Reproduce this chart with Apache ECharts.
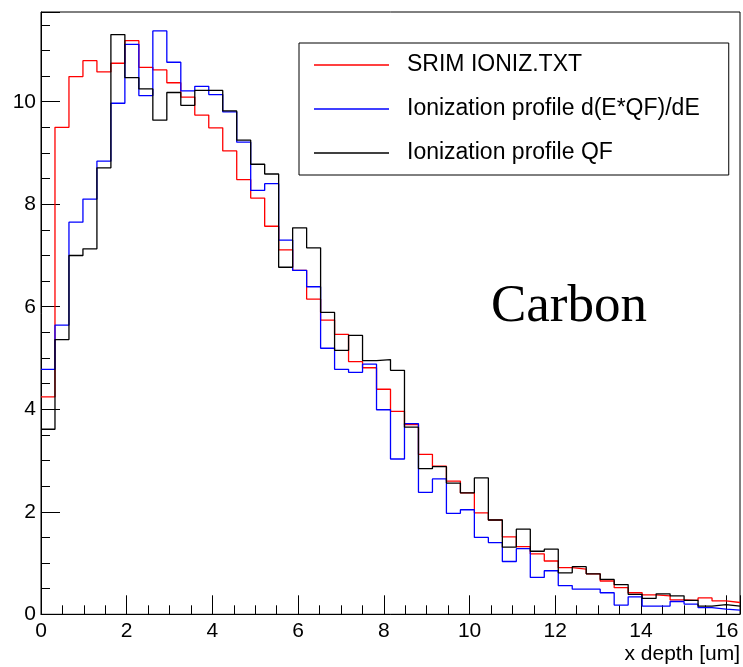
<!DOCTYPE html>
<html>
<head>
<meta charset="utf-8">
<script src="https://cdn.jsdelivr.net/npm/echarts@6/dist/echarts.min.js"></script>
<style>
html,body{margin:0;padding:0;background:#fff;}
#chart{width:743px;height:667px;}
</style>
</head>
<body>
<div id="chart"></div>
<script>
// Histogram: 50 bins from 0 to xMax
const xMax = 16.31;
const nBins = 50;
const binWidth = xMax / nBins;

const seriesNames = ["SRIM IONIZ.TXT", "Ionization profile d(E*QF)/dE", "Ionization profile QF"];

const srimValues = [
  4.24, 9.50, 10.49, 10.80, 10.58, 10.75, 11.19, 10.67, 10.62, 10.37,
  10.09, 9.74, 9.49, 9.04, 8.48, 8.12, 7.57, 7.11, 6.71, 6.15,
  5.74, 5.46, 4.93, 4.81, 4.39, 3.96, 3.70, 3.12, 2.89, 2.60,
  2.37, 1.98, 1.84, 1.51, 1.32, 1.18, 1.04, 0.91, 0.88, 0.79,
  0.65, 0.52, 0.42, 0.38, 0.36, 0.28, 0.27, 0.32, 0.26, 0.23
];

const dEQFValues = [
  4.78, 5.64, 7.65, 8.10, 8.84, 9.97, 11.12, 10.12, 11.38, 10.77,
  10.21, 10.30, 10.14, 9.80, 9.21, 8.27, 8.40, 7.30, 6.71, 6.39,
  5.19, 4.78, 4.72, 4.88, 3.99, 3.03, 3.72, 2.38, 2.64, 1.97,
  2.04, 1.50, 1.40, 1.03, 1.28, 0.72, 0.85, 0.56, 0.49, 0.49,
  0.42, 0.18, 0.34, 0.16, 0.16, 0.25, 0.20, 0.13, 0.10, 0.08
];

const qfValues = [
  3.61, 5.36, 7.00, 7.13, 8.71, 11.31, 10.47, 10.25, 9.64, 10.18,
  9.93, 10.22, 10.22, 9.82, 9.25, 8.78, 8.59, 6.77, 7.54, 7.15,
  5.89, 5.15, 5.44, 4.95, 4.97, 4.76, 3.65, 2.84, 2.88, 2.56,
  2.37, 2.66, 1.84, 1.31, 1.66, 1.23, 1.27, 0.81, 0.93, 0.79,
  0.68, 0.58, 0.39, 0.31, 0.40, 0.36, 0.27, 0.16, 0.19, 0.16
];

const seriesColors = ["#ff0000", "#0000ff", "#000000"];

const xTickLabels = ["0", "2", "4", "6", "8", "10", "12", "14", "16"];
const yTickLabels = ["0", "2", "4", "6", "8", "10"];

function histData(values) {
  const d = values.map((v, i) => [i * binWidth, v]);
  d.push([nBins * binWidth, values[values.length - 1]]);
  return d;
}

const allValues = [srimValues, dEQFValues, qfValues];

const chart = echarts.init(document.getElementById('chart'), null, {renderer: 'canvas'});

const axisFont = {fontFamily: 'Liberation Sans, Arial, Helvetica, sans-serif', fontSize: 21, color: '#000'};

const option = {
  backgroundColor: '#fff',
  animation: false,
  grid: {
    left: 41, top: 12, right: 2.3, bottom: 52.7,
    show: true, borderColor: '#000', borderWidth: 1, backgroundColor: 'transparent'
  },
  legend: {
    orient: 'vertical',
    left: 299, top: 43,
    data: seriesNames,
    icon: 'rect',
    itemWidth: 75,
    itemHeight: 1.3,
    itemGap: 0,
    padding: [0, 29, 0, 15],
    borderColor: '#000',
    borderWidth: 1,
    backgroundColor: '#fff',
    textStyle: {
      fontFamily: 'Liberation Sans, Arial, Helvetica, sans-serif',
      fontSize: 23, color: '#000',
      lineHeight: 44, padding: [0, 0, 0, 13]
    }
  },
  xAxis: {
    type: 'value', min: 0, max: xMax, interval: 2,
    name: 'x depth [um]', nameLocation: 'end', nameGap: 0,
    nameTextStyle: Object.assign({}, axisFont, {align: 'right', verticalAlign: 'top', padding: [29, 0, 0, 0]}),
    axisLine: {show: true, onZero: false, lineStyle: {color: '#000', width: 1}},
    axisTick: {show: true, inside: true, length: 19, lineStyle: {color: '#000', width: 1}},
    minorTick: {show: true, splitNumber: 4, length: 9, lineStyle: {color: '#000', width: 1}},
    axisLabel: Object.assign({}, axisFont, {
      margin: 6, showMaxLabel: false,
      formatter: function (v) { const s = String(Math.round(v)); return (Math.abs(v - Math.round(v)) < 1e-6 && xTickLabels.indexOf(s) >= 0) ? s : ''; }
    }),
    splitLine: {show: false}
  },
  yAxis: {
    type: 'value', min: 0, max: 11.75, interval: 2,
    axisLine: {show: true, onZero: false, lineStyle: {color: '#000', width: 1}},
    axisTick: {show: true, inside: true, length: 19, lineStyle: {color: '#000', width: 1}},
    minorTick: {show: true, splitNumber: 4, length: 9, lineStyle: {color: '#000', width: 1}},
    axisLabel: Object.assign({}, axisFont, {
      margin: 5, showMaxLabel: false,
      formatter: function (v) { const s = String(Math.round(v)); return (Math.abs(v - Math.round(v)) < 1e-6 && yTickLabels.indexOf(s) >= 0) ? s : ''; }
    }),
    splitLine: {show: false}
  },
  graphic: [{
    type: 'text',
    left: 491, top: 281,
    style: {
      text: 'Carbon',
      font: '53px "Liberation Serif", "Times New Roman", serif',
      fill: '#000'
    }
  }],
  series: seriesNames.map((name, k) => ({
    name: name,
    type: 'line',
    step: 'end',
    showSymbol: false,
    symbol: 'none',
    color: seriesColors[k],
    lineStyle: {color: seriesColors[k], width: 1.3},
    data: histData(allValues[k]),
    z: 2 + k
  }))
};

chart.setOption(option);
</script>
</body>
</html>
